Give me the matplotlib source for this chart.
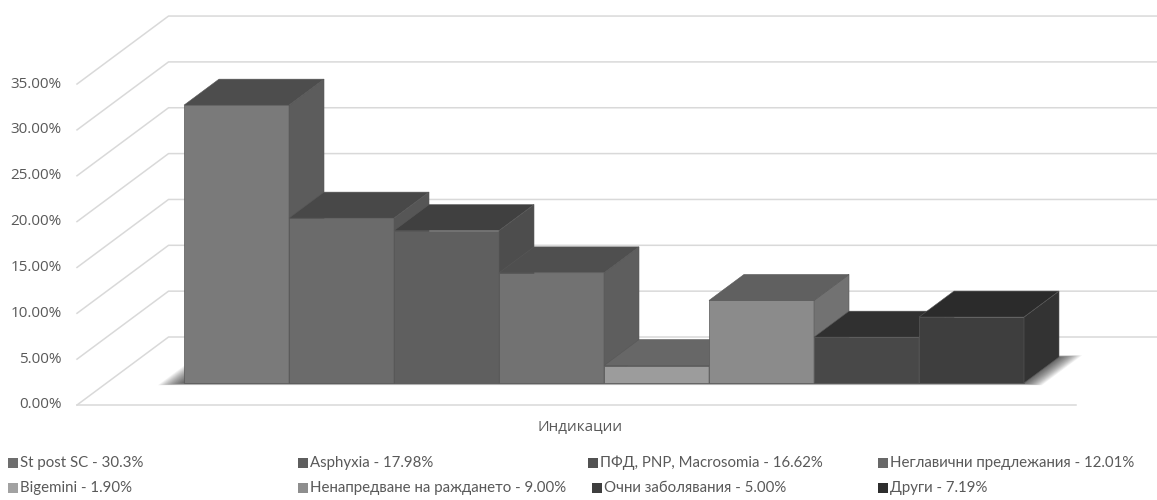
import matplotlib.pyplot as plt
from matplotlib.patches import Polygon, Rectangle
import numpy as np

# indication shares (%)
labels = ["St post SC - 30.3%", "Asphyxia - 17.98%", "ПФД, PNP, Macrosomia - 16.62%",
          "Неглавични предлежания - 12.01%", "Bigemini - 1.90%",
          "Ненапредване на раждането - 9.00%", "Очни заболявания - 5.00%", "Други - 7.19%"]
values = [30.3, 17.98, 16.62, 12.01, 1.90, 9.00, 5.00, 7.19]
yticks = [0, 5, 10, 15, 20, 25, 30, 35]
ytick_labels = ["%.2f%%" % t for t in yticks]

front_cols = ["#7a7a7a", "#6b6b6b", "#5f5f5f", "#727272", "#9c9c9c", "#8b8b8b", "#484848", "#3e3e3e"]
top_cols = ["#4d4d4d", "#484848", "#404040", "#4f4f4f", "#676767", "#606060", "#303030", "#2b2b2b"]
side_cols = ["#5c5c5c", "#565656", "#4d4d4d", "#5e5e5e", "#7c7c7c", "#727272", "#3a3a3a", "#333333"]
legend_cols = ["#6e6e6e", "#5e5e5e", "#525252", "#686868", "#a2a2a2", "#8e8e8e", "#3e3e3e", "#2e2e2e"]

# oblique projection: one unit of depth shifts by (DX, DY) in data units
PX_X = 105.    # pixels per category
PX_Y = 9.17    # pixels per percent
DX = 35 / PX_X
DY = 26 / PX_Y
D_FRONT = -22 / 26.   # front edge of the floor
D_BACK = 46 / 26.     # back wall
X_WALL = -0.737       # left wall at the bar plane
X_FLOOR_END = 8.773

def proj(x, y, d):
    return (x + d * DX, y + d * DY)

fig = plt.figure(figsize=(11.57, 5.0), dpi=100)
ax = fig.add_axes([0, 0, 1, 1])
ax.set_xlim(-184 / PX_X, (1157 - 184) / PX_X)
ax.set_ylim(-(500 - 383) / PX_Y, 383 / PX_Y)
ax.axis('off')

grid_col = "#d9d9d9"
xmax = ax.get_xlim()[1]
for t in yticks:
    x0, y0 = proj(X_WALL, t, D_FRONT)
    x1, y1 = proj(X_WALL, t, D_BACK)
    ax.plot([x0, x1, xmax], [y0, y1, y1], color=grid_col, lw=1.1, zorder=1)
# floor front edge
fx0, fy0 = proj(X_WALL, 0, D_FRONT)
fx1, _ = proj(X_FLOOR_END, 0, D_FRONT)
ax.plot([fx0, fx1], [fy0, fy0], color=grid_col, lw=1.1, zorder=1)

for t, lab in zip(yticks, ytick_labels):
    ax.text(-122 / PX_X, t + D_FRONT * DY, lab, ha='right', va='center',
            fontsize=11, color="#595959", family="Open Sans")

# soft shadow on the floor under the bars
n = len(values)
for k in range(16):
    g = 0.22 - k * 0.014
    foot = [proj(-g, 0, -0.01 - g * 0.35), proj(n + g * 0.9, 0, -0.01 - g * 0.35),
            proj(n + g * 0.9, 0, 1.0 + g * 0.3), proj(-g, 0, 1.0 + g * 0.3)]
    ax.add_patch(Polygon(foot, closed=True, facecolor="black", edgecolor="none",
                         alpha=0.05, zorder=2))

# bars: front face, side face, top face
for i, v in enumerate(values):
    ax.bar(i, v, width=1.0, align='edge', color=front_cols[i],
           edgecolor="#585858", linewidth=0.5, zorder=3 + i * 0.1)
    side = [proj(i + 1, 0, 0), proj(i + 1, 0, 1), proj(i + 1, v, 1), proj(i + 1, v, 0)]
    top = [proj(i, v, 0), proj(i + 1, v, 0), proj(i + 1, v, 1), proj(i, v, 1)]
    ax.add_patch(Polygon(side, closed=True, facecolor=side_cols[i], edgecolor="#585858",
                         linewidth=0.4, zorder=3 + i * 0.1 + 0.01))
    ax.add_patch(Polygon(top, closed=True, facecolor=top_cols[i], edgecolor="#585858",
                         linewidth=0.4, zorder=3 + i * 0.1 + 0.02))

fig.text(580 / 1157., 1 - 427 / 500., "Индикации", ha='center', va='center',
         fontsize=11, color="#595959", family="Open Sans")

# legend, 4 columns x 2 rows
col_x = [8, 298, 588, 878]
row_y = [463, 488]
for i, lab in enumerate(labels):
    r, c = divmod(i, 4)
    mx = col_x[c] + (4 if i == 6 else 0)
    my = row_y[r]
    fig.patches.append(Rectangle((mx / 1157., 1 - (my + 5) / 500.), 10 / 1157., 10 / 500.,
                                 transform=fig.transFigure, facecolor=legend_cols[i],
                                 edgecolor="none"))
    fig.text((mx + 12) / 1157., 1 - my / 500., lab, ha='left', va='center',
             fontsize=10.8, color="#595959", family="Lato")

fig.savefig("out.png", dpi=100)
